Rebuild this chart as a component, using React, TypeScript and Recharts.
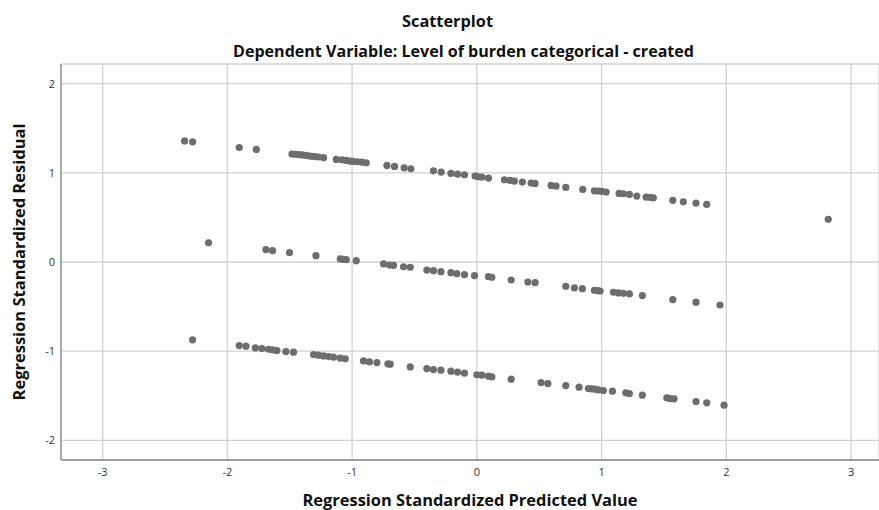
import React from 'react';
import {
  ScatterChart,
  Scatter,
  XAxis,
  YAxis,
  CartesianGrid,
  Label,
} from 'recharts';

// Regression standardized predicted value vs standardized residual
const upperBand: [number, number][] = [
  [-2.343, 1.358], [-2.279, 1.347], [-1.905, 1.284], [-1.768, 1.262],
  [-1.482, 1.211], [-1.456, 1.208], [-1.429, 1.204], [-1.402, 1.2], [-1.376, 1.197],
  [-1.349, 1.189], [-1.322, 1.185], [-1.296, 1.182], [-1.269, 1.177], [-1.229, 1.17],
  [-1.127, 1.15], [-1.082, 1.146], [-1.047, 1.139], [-1.015, 1.131], [-0.989, 1.128],
  [-0.957, 1.123], [-0.921, 1.12], [-0.887, 1.112],
  [-0.721, 1.083], [-0.66, 1.072], [-0.583, 1.056], [-0.529, 1.045],
  [-0.348, 1.022], [-0.286, 1.008], [-0.208, 0.993], [-0.155, 0.985], [-0.099, 0.978], [-0.014, 0.963],
  [0.013, 0.955], [0.04, 0.952], [0.093, 0.941],
  [0.221, 0.922], [0.267, 0.915], [0.301, 0.907], [0.365, 0.896], [0.435, 0.885], [0.467, 0.881],
  [0.595, 0.859], [0.635, 0.851], [0.713, 0.836], [0.849, 0.814],
  [0.942, 0.798], [0.974, 0.795], [1.002, 0.792], [1.036, 0.784],
  [1.14, 0.769], [1.175, 0.765], [1.223, 0.758], [1.282, 0.739], [1.357, 0.728], [1.389, 0.725], [1.415, 0.72],
  [1.571, 0.691], [1.655, 0.675], [1.757, 0.661], [1.843, 0.646],
];

const middleBand: [number, number][] = [
  [-2.151, 0.216], [-1.691, 0.138], [-1.638, 0.127], [-1.502, 0.104], [-1.29, 0.071],
  [-1.095, 0.034], [-1.074, 0.03], [-1.047, 0.026], [-0.967, 0.015],
  [-0.748, -0.022], [-0.7, -0.034], [-0.668, -0.037], [-0.588, -0.053], [-0.534, -0.059],
  [-0.401, -0.09], [-0.348, -0.097], [-0.288, -0.109], [-0.208, -0.12], [-0.16, -0.131],
  [-0.099, -0.142], [-0.019, -0.153], [0.093, -0.165], [0.12, -0.172], [0.275, -0.202],
  [0.409, -0.224], [0.467, -0.232], [0.713, -0.272], [0.782, -0.291], [0.846, -0.299],
  [0.942, -0.317], [0.969, -0.321], [0.988, -0.325], [1.095, -0.339], [1.135, -0.347],
  [1.175, -0.351], [1.223, -0.358], [1.327, -0.377], [1.571, -0.422], [1.757, -0.451], [1.949, -0.482],
];

const lowerBand: [number, number][] = [
  [-2.279, -0.873], [-1.905, -0.937], [-1.851, -0.944], [-1.776, -0.963], [-1.723, -0.971],
  [-1.67, -0.978], [-1.638, -0.985], [-1.603, -0.993], [-1.531, -1.004], [-1.47, -1.011],
  [-1.309, -1.038], [-1.269, -1.045], [-1.229, -1.053], [-1.189, -1.06], [-1.149, -1.067],
  [-1.095, -1.078], [-1.055, -1.086], [-0.909, -1.109], [-0.861, -1.12], [-0.801, -1.128],
  [-0.713, -1.142], [-0.695, -1.146], [-0.534, -1.176], [-0.401, -1.195], [-0.348, -1.206],
  [-0.288, -1.213], [-0.208, -1.224], [-0.155, -1.235], [-0.099, -1.246], [0.0, -1.265],
  [0.04, -1.268], [0.093, -1.28], [0.12, -1.288], [0.275, -1.314], [0.515, -1.352],
  [0.569, -1.363], [0.713, -1.385], [0.82, -1.403], [0.894, -1.419], [0.921, -1.422],
  [0.948, -1.426], [0.974, -1.433], [1.014, -1.441], [1.087, -1.448], [1.194, -1.467],
  [1.223, -1.475], [1.327, -1.493], [1.523, -1.523], [1.549, -1.531], [1.581, -1.534],
  [1.757, -1.564], [1.843, -1.579], [1.982, -1.605],
];

const outliers: [number, number][] = [[2.817, 0.478]];

const xTicks = [-3, -2, -1, 0, 1, 2, 3];
const yTicks = [-2, -1, 0, 1, 2];

const title = 'Scatterplot';
const subtitle = 'Dependent Variable: Level of burden categorical - created';
const xTitle = 'Regression Standardized Predicted Value';
const yTitle = 'Regression Standardized Residual';

const points = [...upperBand, ...middleBand, ...lowerBand, ...outliers].map(([x, y]) => ({ x, y }));

const FONT = '"Open Sans", "DejaVu Sans", sans-serif';

const Dot = (props: any) => {
  const { cx, cy } = props;
  if (cx == null || cy == null) return null;
  return <circle cx={cx} cy={cy} r={3.6} fill="#6d6d6d" />;
};

const App: React.FC = () => {
  return (
    <div style={{ position: 'absolute', left: 0, top: 0, width: 879, height: 510, background: '#fff' }}>
      <ScatterChart
        width={879}
        height={510}
        margin={{ top: 64, right: 0, bottom: 0, left: 0 }}
        style={{ fontFamily: FONT }}
      >
        <CartesianGrid stroke="#d2d2d2" strokeWidth={1.3} />
        <XAxis
          type="number"
          dataKey="x"
          domain={[-3.334, 3.224]}
          ticks={xTicks}
          allowDataOverflow
          height={50}
          tickLine={false}
          tickSize={6}
          axisLine={{ stroke: '#8a8a8a', strokeWidth: 1.3 }}
          tick={{ fill: '#333', fontSize: 11 }}
        >
          <Label
            content={({ viewBox }: any) => (
              <text
                x={viewBox.x + viewBox.width / 2}
                y={506}
                textAnchor="middle"
                fontSize={16}
                fontWeight={700}
                fill="#111"
                textLength={335}
                lengthAdjust="spacingAndGlyphs"
              >
                {xTitle}
              </text>
            )}
          />
        </XAxis>
        <YAxis
          type="number"
          dataKey="y"
          domain={[-2.22, 2.22]}
          ticks={yTicks}
          allowDataOverflow
          width={61}
          tickLine={false}
          tickSize={4}
          tickMargin={2}
          axisLine={{ stroke: '#8a8a8a', strokeWidth: 1.3 }}
          tick={{ fill: '#333', fontSize: 11 }}
        >
          <Label
            content={({ viewBox }: any) => {
              const cy = viewBox.y + viewBox.height / 2;
              return (
                <text
                  x={25}
                  y={cy}
                  transform={`rotate(-90, 25, ${cy})`}
                  textAnchor="middle"
                  fontSize={16}
                  fontWeight={700}
                  fill="#111"
                  textLength={277}
                  lengthAdjust="spacingAndGlyphs"
                >
                  {yTitle}
                </text>
              );
            }}
          />
        </YAxis>
        <Scatter data={points} shape={<Dot />} isAnimationActive={false} />
      </ScatterChart>
      <svg
        width={879}
        height={64}
        style={{ position: 'absolute', left: 0, top: 0, pointerEvents: 'none', fontFamily: FONT }}
      >
        <text x={447.5} y={27} textAnchor="middle" fontSize={16} fontWeight={700} fill="#111"
          textLength={91} lengthAdjust="spacingAndGlyphs">
          {title}
        </text>
        <text x={463.5} y={57} textAnchor="middle" fontSize={16} fontWeight={700} fill="#111"
          textLength={461} lengthAdjust="spacingAndGlyphs">
          {subtitle}
        </text>
      </svg>
    </div>
  );
};

export default App;
